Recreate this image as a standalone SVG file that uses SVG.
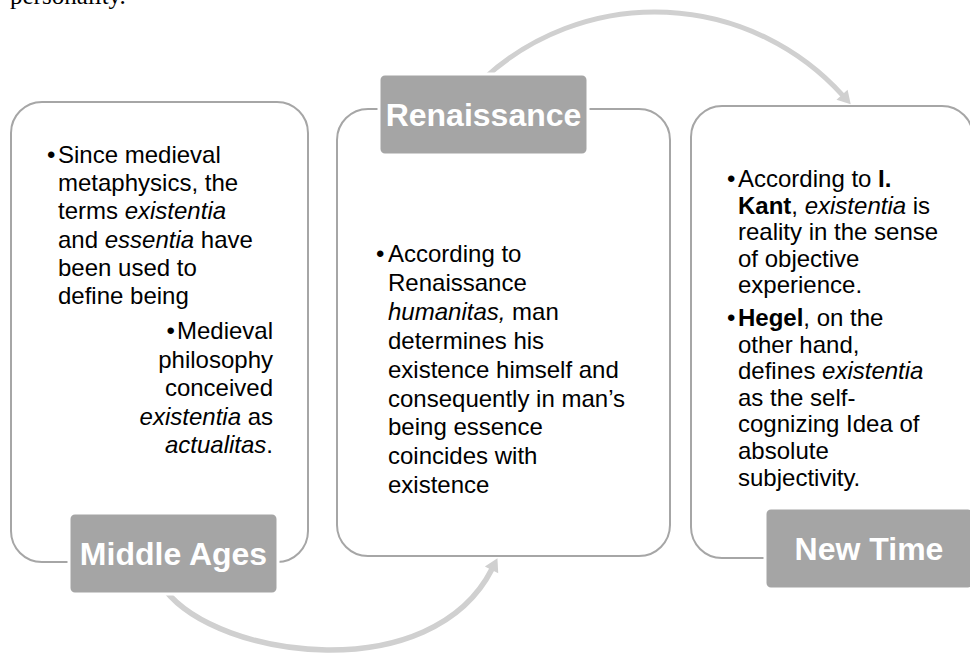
<svg xmlns="http://www.w3.org/2000/svg" width="970" height="655" viewBox="0 0 970 655">
<defs>
<style>
.box{fill:#ffffff;stroke:#a6a6a6;stroke-width:2}
.lbl{fill:#a5a5a5;stroke:#ffffff;stroke-width:3}
.lt{font-family:"Liberation Sans",Arial,sans-serif;font-weight:bold;font-size:32px;fill:#ffffff;text-anchor:middle}
.bt{font-family:"Liberation Sans",Arial,sans-serif;font-size:24px;fill:#000000}
.arr{fill:none;stroke:#d0d0d0}
.i{font-style:italic}
.b{font-weight:bold}
</style>
<marker id="ah" markerUnits="userSpaceOnUse" markerWidth="20" markerHeight="20" viewBox="-2 -10 20 20" refX="0" refY="0" orient="auto">
<path d="M-1,-7.5 L12,0 L-1,7.5 z" fill="#d0d0d0"/>
</marker>
</defs>
<rect width="970" height="655" fill="#ffffff"/>
<text x="10" y="4" font-family="Liberation Serif,serif" font-size="25px" fill="#000">personality.</text>

<g id="connectors">
<path class="arr" stroke-width="5.5" d="M165,590 C220,660 432,687 492,569" marker-end="url(#ah)"/>
<path class="arr" stroke-width="5" d="M484,78.5 A253,253 0 0,1 842.7,95.4" marker-end="url(#ah)"/>
</g>

<g id="middle-ages">
<rect class="box" x="11" y="102" width="297" height="460" rx="31"/>
<g class="bt">
<text x="47" y="162.7">•</text>
<text x="58" y="162.7">Since medieval</text>
<text x="58" y="191">metaphysics, the</text>
<text x="58" y="219.3">terms <tspan class="i">existentia</tspan></text>
<text x="58" y="247.6">and <tspan class="i">essentia</tspan> have</text>
<text x="58" y="275.9">been used to</text>
<text x="58" y="304.2">define being</text>
<text x="273" y="339" text-anchor="end">•<tspan dx="2">Medieval</tspan></text>
<text x="273" y="367.6" text-anchor="end">philosophy</text>
<text x="273" y="396.2" text-anchor="end">conceived</text>
<text x="273" y="424.8" text-anchor="end"><tspan class="i">existentia</tspan> as</text>
<text x="273" y="453.4" text-anchor="end"><tspan class="i">actualitas</tspan>.</text>
</g>
<rect class="lbl" x="69" y="513" width="209" height="81" rx="6"/>
<text class="lt" x="173.5" y="565">Middle Ages</text>
</g>

<g id="renaissance">
<rect class="box" x="337" y="109" width="333" height="447" rx="31"/>
<g class="bt">
<text x="376" y="261.7">•</text>
<text x="388" y="261.7">According to</text>
<text x="388" y="290.7">Renaissance</text>
<text x="388" y="319.6"><tspan class="i">humanitas,</tspan> man</text>
<text x="388" y="348.6">determines his</text>
<text x="388" y="377.5">existence himself and</text>
<text x="388" y="406.5">consequently in man’s</text>
<text x="388" y="435.4">being essence</text>
<text x="388" y="464.4">coincides with</text>
<text x="388" y="493.3">existence</text>
</g>
<rect class="lbl" x="379" y="74" width="209" height="81" rx="6"/>
<text class="lt" x="483.5" y="126">Renaissance</text>
</g>

<g id="new-time">
<rect class="box" x="691" y="106" width="282" height="452" rx="31"/>
<g class="bt">
<text x="727" y="187">•</text>
<text x="738" y="187">According to <tspan class="b">I.</tspan></text>
<text x="738" y="213.6"><tspan class="b">Kant</tspan>, <tspan class="i">existentia</tspan> is</text>
<text x="738" y="240.2">reality in the sense</text>
<text x="738" y="266.8">of objective</text>
<text x="738" y="293.4">experience.</text>
<text x="727" y="326">•</text>
<text x="738" y="326"><tspan class="b">Hegel</tspan>, on the</text>
<text x="738" y="352.6">other hand,</text>
<text x="738" y="379.2">defines <tspan class="i">existentia</tspan></text>
<text x="738" y="405.8">as the self-</text>
<text x="738" y="432.4">cognizing Idea of</text>
<text x="738" y="459">absolute</text>
<text x="738" y="485.6">subjectivity.</text>
</g>
<rect class="lbl" x="765" y="508" width="209" height="81" rx="6"/>
<text class="lt" x="869" y="560">New Time</text>
</g>
</svg>
